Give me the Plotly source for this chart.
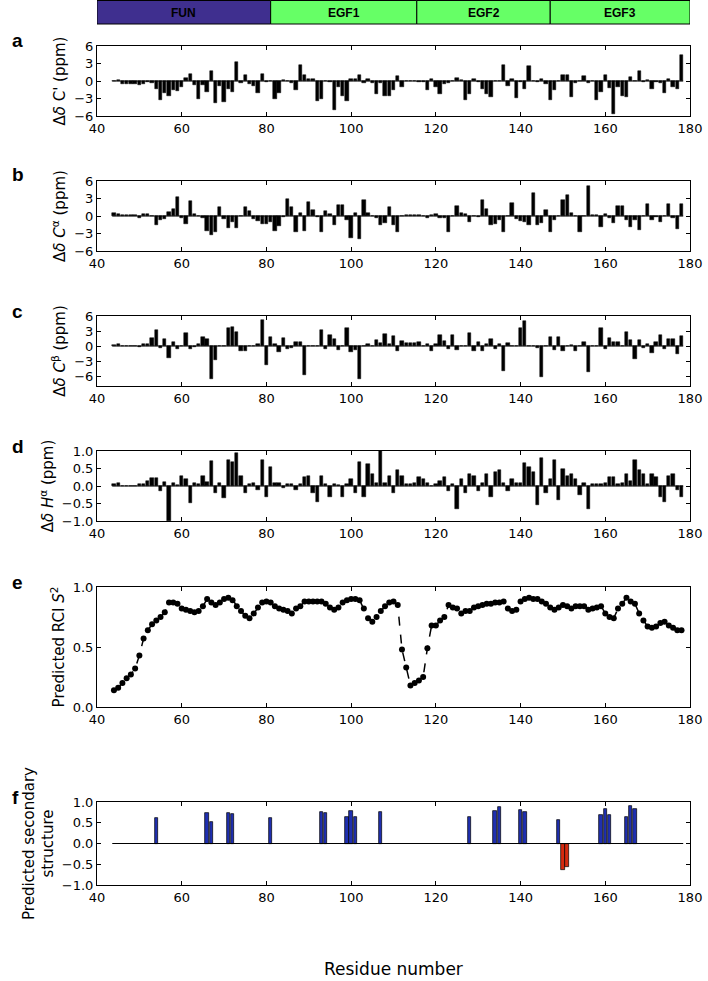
import plotly.graph_objects as go

residues = list(range(44, 179))

d_co = [0.05, 0.2, -0.5, -0.5, -0.5, -0.5, -0.6, -0.5, -0.2, -0.4,
        -1.3, -3.3, -2.1, -2.5, -1.5, -1.7, -1.1, 0.5, 1.2, -0.6,
        -3.0, -0.6, -1.9, 1.7, -3.7, -0.8, -3.6, -1.3, -1.8, 3.3,
        -0.3, 1.0, -0.5, -0.8, -2.0, 1.2, -0.2, 0.0, -3.0, -2.0,
        0.2, 0.0, -0.3, -1.5, 2.7, 1.0, 0.4, 0.4, -3.5, -3.0,
        0.0, -0.2, -5.0, -1.0, -2.6, -3.5, 0.3, 0.4, 1.0, -0.3,
        0.4, -0.3, -2.2, -0.3, -2.6, -2.5, -1.6, 0.9, -1.1, 0.0,
        0.05, 0.0, -0.2, -0.2, -1.6, 0.4, -1.0, -2.3, -0.5, -0.4,
        0.0, 0.6, 0.1, -3.2, -2.2, 0.4, -0.2, -1.3, -2.2, -2.8,
        0.0, 0.0, 2.7, -0.9, 0.3, -2.9, -0.2, -1.4, 2.6, 0.0,
        -0.2, 0.4, -0.5, -3.3, -1.5, 0.0, 1.1, 1.1, -2.7, -0.3,
        0.0, 0.8, -0.3, 0.0, -3.2, -1.8, 1.1, -1.2, -5.6, -1.0,
        -2.6, -2.7, 0.7, 0.0, 1.7, -0.2, 0.2, -1.4, -0.1, -0.4,
        -2.0, 0.3, -1.0, -1.3, 4.5]

d_ca = [0.6, 0.3, 0.2, 0.1, 0.1, 0.1, -0.4, 0.3, 0.3, 0.0,
        -1.6, -0.7, -0.5, 0.7, 1.2, 3.2, -0.3, -1.3, 2.6, 0.3,
        0.0, -0.3, -2.5, -3.2, -2.7, 1.6, -0.5, -2.0, -1.0, -2.0,
        0.0, 1.6, 0.8, -0.5, -0.8, -1.3, -1.3, -1.0, -2.5, -1.7,
        -0.2, 2.9, 1.5, -2.7, 0.5, -2.5, 2.4, 1.0, -0.2, -2.7,
        0.8, 0.3, -1.6, 1.9, 1.9, -0.6, -3.7, 0.6, -3.9, 2.8,
        0.6, 0.0, -0.3, -1.5, -1.2, 1.6, -1.5, -2.7, 0.0, 0.1,
        0.2, 0.1, 0.1, 0.0, -0.3, 0.1, 0.3, -0.3, -0.4, -2.8,
        0.0, 1.8, 0.6, 0.4, -1.1, 0.0, -0.2, 2.7, 1.2, -1.6,
        -1.3, -0.7, -2.8, 0.0, 2.3, -0.5, -0.8, -1.0, -1.6, 4.0,
        -1.5, -1.2, 1.0, -2.7, -0.7, 0.0, 2.8, 3.6, 0.5, 0.0,
        -2.8, 0.0, 5.2, 0.2, 0.2, -1.8, 0.3, -0.3, -1.2, 1.8,
        1.8, -0.6, -1.8, -0.6, -2.4, 0.0, 2.0, -0.6, -0.2, -1.0,
        0.0, 2.0, -0.3, -2.2, 2.1]

d_cb = [0.2, 0.4, 0.0, 0.0, 0.0, 0.0, -0.2, 0.5, 0.5, 1.6,
        3.3, -0.3, 1.4, -2.3, 0.9, -0.5, 0.0, 2.7, -0.5, -0.2,
        0.5, 1.8, 1.4, -6.5, -2.8, 0.0, 0.0, 3.6, 3.8, 2.8,
        -0.9, -0.9, 0.0, 0.0, 0.5, 5.3, -3.8, 1.8, 0.5, -1.2,
        1.7, -0.6, -0.3, 0.8, 0.8, -5.8, 0.0, 0.0, 0.0, 3.2,
        -0.5, 2.2, 1.4, -0.7, 0.0, 3.6, -1.2, -0.8, -6.6, 0.0,
        0.5, 0.0, 1.2, 0.7, 2.4, 0.5, 2.0, -1.0, 1.0, 0.7,
        0.7, 0.7, 0.8, 0.0, 0.5, -1.0, 0.5, 2.2, 1.0, -0.5,
        2.3, -0.8, 0.0, 0.0, 2.6, -1.0, 0.8, -1.0, 0.5, 1.5,
        -0.6, 0.5, -5.0, 0.7, 0.0, 0.0, 3.6, 5.0, 0.0, 0.0,
        -0.3, -6.2, 0.0, 1.8, -0.8, 1.9, -1.0, 0.0, 0.2, -1.0,
        0.0, 0.8, -5.2, 0.0, 0.0, 3.7, -0.5, 1.6, 0.8, 0.9,
        0.0, 2.8, 1.2, -2.6, 1.2, -0.3, 0.5, -1.3, 0.8, 2.3,
        -0.5, 1.5, 1.5, -1.5, 2.0]

d_ha = [0.05, 0.08, 0.0, 0.0, 0.0, 0.0, 0.05, 0.05, 0.15, 0.22,
        0.22, -0.15, 0.12, -1.0, 0.1, 0.02, 0.3, 0.2, -0.48, 0.1,
        0.05, 0.3, 0.12, 0.72, -0.2, 0.1, -0.35, 0.75, 0.7, 0.95,
        0.3, -0.2, 0.05, 0.1, -0.1, 0.75, -0.3, 0.55, 0.1, 0.1,
        -0.05, 0.05, 0.05, -0.1, 0.05, 0.25, 0.3, -0.2, -0.45, 0.3,
        0.05, -0.3, 0.05, 0.02, -0.3, 0.05, 0.2, -0.2, 0.68, -0.3,
        0.62, 0.35, 0.1, 1.0, 0.1, 0.3, -0.2, 0.45, 0.3, 0.05,
        0.05, 0.1, 0.25, 0.2, 0.1, 0.0, 0.05, 0.15, 0.25, -0.15,
        0.05, -0.65, 0.2, -0.2, 0.35, 0.3, -0.15, 0.1, 0.35, -0.3,
        0.4, 0.45, 0.1, -0.15, 0.2, 0.1, 0.1, 0.65, 0.55, 0.4,
        -0.55, 0.8, -0.2, 0.2, 0.75, -0.4, 0.5, 0.3, 0.35, 0.2,
        -0.25, 0.1, -0.65, 0.05, 0.05, 0.05, 0.1, 0.25, 0.25, 0.05,
        0.1, 0.35, 0.15, 0.75, 0.45, 0.35, 0.05, 0.35, 0.25, -0.3,
        -0.45, 0.3, 0.35, -0.1, -0.3]

rci_s2 = [0.14, 0.16, 0.20, 0.24, 0.27, 0.32, 0.43, 0.57, 0.64, 0.69,
          0.72, 0.75, 0.79, 0.87, 0.87, 0.86, 0.82, 0.81, 0.80, 0.79,
          0.80, 0.84, 0.90, 0.87, 0.85, 0.87, 0.90, 0.91, 0.89, 0.84,
          0.80, 0.76, 0.74, 0.78, 0.83, 0.87, 0.88, 0.87, 0.84, 0.82,
          0.81, 0.80, 0.78, 0.82, 0.84, 0.88, 0.88, 0.88, 0.88, 0.88,
          0.86, 0.83, 0.81, 0.83, 0.87, 0.89, 0.90, 0.90, 0.89, 0.82,
          0.74, 0.71, 0.75, 0.80, 0.84, 0.87, 0.88, 0.85, 0.48, 0.33,
          0.18, 0.20, 0.22, 0.25, 0.49, 0.68, 0.68, 0.72, 0.75, 0.85,
          0.83, 0.82, 0.78, 0.80, 0.80, 0.83, 0.84, 0.85, 0.86, 0.86,
          0.87, 0.87, 0.88, 0.82, 0.80, 0.81, 0.88, 0.90, 0.91, 0.90,
          0.90, 0.88, 0.86, 0.83, 0.81, 0.83, 0.85, 0.84, 0.82, 0.84,
          0.84, 0.84, 0.81, 0.82, 0.83, 0.84, 0.78, 0.75, 0.74, 0.82,
          0.86, 0.91, 0.88, 0.86, 0.78, 0.72, 0.67, 0.66, 0.67, 0.70,
          0.71, 0.68, 0.66, 0.64, 0.64]

ss_res = [54, 66, 67, 71, 72, 81, 93, 94, 99, 100, 101, 107, 128, 134, 135,
          140, 141, 149, 150, 151, 159, 160, 161, 165, 166, 167]
ss_val = [0.62, 0.73, 0.53, 0.74, 0.71, 0.62, 0.76, 0.73, 0.63, 0.78, 0.64,
          0.75, 0.63, 0.79, 0.88, 0.81, 0.77, 0.57, -0.63, -0.57, 0.69, 0.84,
          0.68, 0.64, 0.91, 0.82]

domain_names = ["FUN", "EGF1", "EGF2", "EGF3"]
domain_start = [40, 81, 115.5, 147]
domain_end = [81, 115.5, 147, 180]
domain_colors = ["#3f2f8f", "#66ff66", "#66ff66", "#66ff66"]

W, H = 708, 981
ML, MR, MT, MB = 97, 18, 0, 96
PH = H - MT - MB
PW = W - ML - MR


def py(p):
    return (PH - (p - MT)) / PH


def px(p):
    return (p - ML) / PW


panels = [(46, 116), (181, 251), (316, 386), (451, 521), (587, 707), (802, 885)]
yranges = [[-6, 6], [-6, 6], [-8, 6], [-1, 1], [0, 1], [-1, 1]]
ytickvals = [[-6, -3, 0, 3, 6], [-6, -3, 0, 3, 6], [-6, -3, 0, 3, 6],
             [-1, -0.5, 0, 0.5, 1], [0, 0.5, 1], [-1, -0.5, 0, 0.5, 1]]
yticktext = [["\u22126", "\u22123", "0", "3", "6"]] * 3 + \
            [["\u22121.0", "\u22120.5", "0.0", "0.5", "1.0"], ["0.0", "0.5", "1.0"],
             ["\u22121.0", "\u22120.5", "0.0", "0.5", "1.0"]]
ytitles = ["\u0394<i>\u03b4</i> C' (ppm)",
           "\u0394<i>\u03b4</i> <i>C</i><sup>\u03b1</sup> (ppm)",
           "\u0394<i>\u03b4</i> <i>C</i><sup>\u03b2</sup> (ppm)",
           "\u0394<i>\u03b4</i> <i>H</i><sup>\u03b1</sup> (ppm)",
           "Predicted RCI <i>S</i><sup>2</sup>",
           "Predicted secondary<br>structure"]
letters = ["a", "b", "c", "d", "e", "f"]

FONT = "DejaVu Sans"
fig = go.Figure()

bar_series = [d_co, d_ca, d_cb, d_ha]
for i, vals in enumerate(bar_series):
    ax = "" if i == 0 else str(i + 1)
    fig.add_trace(go.Scatter(x=[43.6, 178.4], y=[0, 0], mode="lines",
                             line=dict(color="black", width=1),
                             xaxis="x" + ax, yaxis="y" + ax, showlegend=False,
                             hoverinfo="skip"))
    fig.add_trace(go.Bar(x=residues, y=vals, width=0.78,
                         marker=dict(color="black", line=dict(color="black", width=0.5)),
                         xaxis="x" + ax, yaxis="y" + ax, showlegend=False))

fig.add_trace(go.Scatter(x=residues, y=rci_s2, mode="lines+markers",
                         line=dict(color="black", width=1.5, dash="dash"),
                         marker=dict(color="black", size=6),
                         xaxis="x5", yaxis="y5", showlegend=False))

fig.add_trace(go.Scatter(x=[43.6, 178.4], y=[0, 0], mode="lines",
                         line=dict(color="black", width=1),
                         xaxis="x6", yaxis="y6", showlegend=False, hoverinfo="skip"))
ss_colors = ["#1f2fb0" if v > 0 else "#d42a10" for v in ss_val]
fig.add_trace(go.Bar(x=ss_res, y=ss_val, width=0.8,
                     marker=dict(color=ss_colors, line=dict(color="black", width=0.7)),
                     xaxis="x6", yaxis="y6", showlegend=False))

layout = dict(width=W, height=H, margin=dict(l=ML, r=MR, t=MT, b=MB),
              plot_bgcolor="white", paper_bgcolor="white",
              font=dict(family=FONT, size=13, color="black"),
              bargap=0, barmode="overlay")

for i in range(6):
    ax = "" if i == 0 else str(i + 1)
    top, bot = panels[i]
    layout["xaxis" + ax] = dict(
        domain=[0, 1], range=[40, 180], anchor="y" + ax, automargin=False,
        tickvals=[40, 60, 80, 100, 120, 140, 160, 180],
        ticks="inside", ticklen=4, tickcolor="black",
        showline=True, linecolor="black", linewidth=1, mirror="allticks",
        showgrid=False, zeroline=False, tickfont=dict(size=13))
    layout["yaxis" + ax] = dict(
        domain=[py(bot), py(top)], range=yranges[i], anchor="x" + ax, automargin=False,
        tickvals=ytickvals[i], ticktext=yticktext[i],
        ticks="inside", ticklen=4, tickcolor="black",
        showline=True, linecolor="black", linewidth=1, mirror="allticks",
        showgrid=False, zeroline=False, tickfont=dict(size=13),
        title=dict(text=ytitles[i], font=dict(size=15), standoff=4))

fig.update_layout(**layout)

fig.add_annotation(x=0.5, y=py(969), xref="paper", yref="paper", text="Residue number",
                   showarrow=False, xanchor="center", yanchor="middle",
                   font=dict(size=17))

# domain bar
for name, s, e, c in zip(domain_names, domain_start, domain_end, domain_colors):
    fig.add_shape(type="rect", xref="x", yref="paper", x0=s, x1=e,
                  y0=py(24), y1=py(0.5), fillcolor=c, line=dict(color="black", width=1),
                  layer="above")
    fig.add_annotation(x=(s + e) / 2, xref="x", y=py(12.5), yref="paper",
                       text="<b>" + name + "</b>", showarrow=False,
                       xanchor="center", yanchor="middle",
                       font=dict(family="Liberation Sans", size=12, color="black"))

letter_y = [40, 175, 311, 446, 582, 797]
for L, yy in zip(letters, letter_y):
    fig.add_annotation(x=px(10), y=py(yy), xref="paper", yref="paper",
                       text="<b>" + L + "</b>", showarrow=False, xanchor="left",
                       yanchor="middle", font=dict(family="Liberation Sans", size=19))

fig.write_html("out.html", config={"displayModeBar": False},
               post_script="document.body.style.margin='0';")
